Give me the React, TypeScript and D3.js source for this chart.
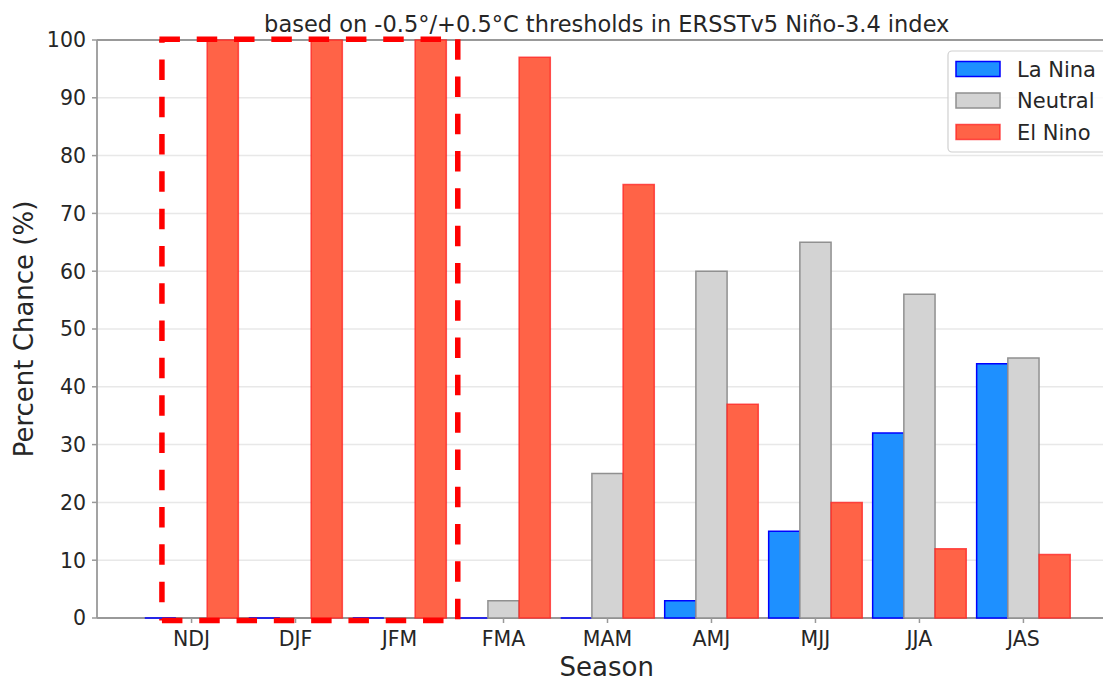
import { useEffect, useRef } from "react";
import * as d3 from "d3";

const seasons = ["NDJ", "DJF", "JFM", "FMA", "MAM", "AMJ", "MJJ", "JJA", "JAS"];
const laNina = [0, 0, 0, 0, 0, 3, 15, 32, 44];
const neutral = [0, 0, 0, 3, 25, 60, 65, 56, 45];
const elNino = [100, 100, 100, 97, 75, 37, 20, 12, 11];
const yTicks = [0, 10, 20, 30, 40, 50, 60, 70, 80, 90, 100];

const seriesNames = ["La Nina", "Neutral", "El Nino"];
const fills = ["#1e90ff", "#d3d3d3", "#ff6347"];
const strokes = ["#0000ff", "#909090", "#ff2020"];

// observed seasons box (x in season units, y in percent)
const boxX: [number, number] = [-0.285, 2.56];
const boxY: [number, number] = [-0.45, 100.15];

const W = 1103;
const H = 679;
const FONT = "DejaVu Sans, sans-serif";

function App() {
  const svgRef = useRef<SVGSVGElement>(null);

  useEffect(() => {
    if (!svgRef.current) return;
    const svg = d3.select(svgRef.current);
    svg.selectAll("*").remove();

    const x = d3.scaleLinear().domain([-0.895, 8.895]).range([98.5, 1116.5]);
    const y = d3.scaleLinear().domain([0, 100]).range([618, 40]);
    const left = 97;
    const barW = 0.3;

    // gridlines
    svg
      .append("g")
      .selectAll("line")
      .data(yTicks)
      .enter()
      .append("line")
      .attr("x1", left)
      .attr("x2", x.range()[1])
      .attr("y1", (d) => y(d))
      .attr("y2", (d) => y(d))
      .attr("stroke", "#e8e8e8")
      .attr("stroke-width", 1.5);

    // spines (under the bars, so zero-height bars still show their edge)
    const spine = svg.append("g").attr("stroke", "#999").attr("stroke-width", 1.8);
    spine.append("line").attr("x1", left).attr("x2", left).attr("y1", y(0)).attr("y2", y(100));
    spine.append("line").attr("x1", left).attr("x2", x.range()[1]).attr("y1", y(0)).attr("y2", y(0));
    spine.append("line").attr("x1", left).attr("x2", x.range()[1]).attr("y1", y(100)).attr("y2", y(100));

    // bars
    const all = [laNina, neutral, elNino];
    all.forEach((vals, s) => {
      const off = (s - 1) * barW;
      svg
        .append("g")
        .selectAll("path")
        .data(vals)
        .enter()
        .append("path")
        .attr("d", (v, i) => {
          const x0 = x(i + off - barW / 2);
          const x1 = x(i + off + barW / 2);
          return `M${x0},${y(0)}L${x0},${y(v)}L${x1},${y(v)}L${x1},${y(0)}Z`;
        })
        .attr("fill", fills[s])
        .attr("stroke", strokes[s])
        .attr("stroke-width", 1.5)
        .attr("stroke-opacity", s === 2 ? 0.75 : 1);
    });

    // y ticks
    const yt = svg.append("g");
    yTicks.forEach((t) => {
      yt.append("line")
        .attr("x1", left - 5)
        .attr("x2", left)
        .attr("y1", y(t))
        .attr("y2", y(t))
        .attr("stroke", "#999")
        .attr("stroke-width", 1.5);
      yt.append("text")
        .attr("x", left - 11)
        .attr("y", y(t))
        .attr("dy", "0.36em")
        .attr("text-anchor", "end")
        .attr("font-family", FONT)
        .attr("font-size", 20.5)
        .attr("fill", "#262626")
        .text(t);
    });

    // x ticks
    const xt = svg.append("g");
    seasons.forEach((s, i) => {
      xt.append("line")
        .attr("x1", x(i))
        .attr("x2", x(i))
        .attr("y1", y(0))
        .attr("y2", y(0) + 5)
        .attr("stroke", "#999")
        .attr("stroke-width", 1.5);
      xt.append("text")
        .attr("x", x(i))
        .attr("y", 646)
        .attr("text-anchor", "middle")
        .attr("font-family", FONT)
        .attr("font-size", 20.5)
        .attr("fill", "#262626")
        .text(s);
    });

    // dashed box around observed seasons
    const bx0 = x(boxX[0]);
    const bx1 = x(boxX[1]);
    const by0 = y(boxY[0]);
    const by1 = y(boxY[1]);
    const dash = svg
      .append("g")
      .attr("stroke", "#ff0000")
      .attr("stroke-width", 5.5)
      .attr("stroke-dasharray", "20.5,16.8")
      .attr("fill", "none");
    dash.append("line").attr("x1", bx0 - 2.5).attr("x2", bx1).attr("y1", by1).attr("y2", by1);
    dash.append("line").attr("x1", bx0).attr("x2", bx1).attr("y1", by0).attr("y2", by0);
    dash
      .append("line")
      .attr("x1", bx0)
      .attr("x2", bx0)
      .attr("y1", by1)
      .attr("y2", by0)
      .attr("stroke-dashoffset", 17);
    dash.append("line").attr("x1", bx1).attr("x2", bx1).attr("y1", by1).attr("y2", by0);

    // titles
    const mid = (left + x.range()[1]) / 2;
    svg
      .append("text")
      .attr("x", mid)
      .attr("y", 32)
      .attr("text-anchor", "middle")
      .attr("font-family", FONT)
      .attr("font-size", 22.5)
      .attr("fill", "#262626")
      .text("based on -0.5°/+0.5°C thresholds in ERSSTv5 Niño-3.4 index");
    svg
      .append("text")
      .attr("x", mid)
      .attr("y", 676)
      .attr("text-anchor", "middle")
      .attr("font-family", FONT)
      .attr("font-size", 26)
      .attr("fill", "#262626")
      .text("Season");
    svg
      .append("text")
      .attr("transform", `translate(33,${(y(0) + y(100)) / 2}) rotate(-90)`)
      .attr("text-anchor", "middle")
      .attr("font-family", FONT)
      .attr("font-size", 26)
      .attr("fill", "#262626")
      .text("Percent Chance (%)");

    // legend
    const lg = svg.append("g");
    lg.append("rect")
      .attr("x", 948)
      .attr("y", 51)
      .attr("width", 160)
      .attr("height", 101)
      .attr("rx", 4)
      .attr("fill", "white")
      .attr("fill-opacity", 0.8)
      .attr("stroke", "#d0d0d0")
      .attr("stroke-width", 1.2);
    seriesNames.forEach((n, i) => {
      const cy = 69 + i * 31.5;
      lg.append("rect")
        .attr("x", 956)
        .attr("y", cy - 7.5)
        .attr("width", 44)
        .attr("height", 15)
        .attr("fill", fills[i])
        .attr("stroke", strokes[i])
        .attr("stroke-width", 1.5)
        .attr("stroke-opacity", i === 2 ? 0.75 : 1);
      lg.append("text")
        .attr("x", 1017)
        .attr("y", cy + 7.5)
        .attr("font-family", FONT)
        .attr("font-size", 21)
        .attr("fill", "#262626")
        .text(n);
    });
  }, []);

  return (
    <svg
      ref={svgRef}
      width={W}
      height={H}
      style={{ position: "absolute", left: 0, top: 0, background: "white" }}
    ></svg>
  );
}

export default App;
